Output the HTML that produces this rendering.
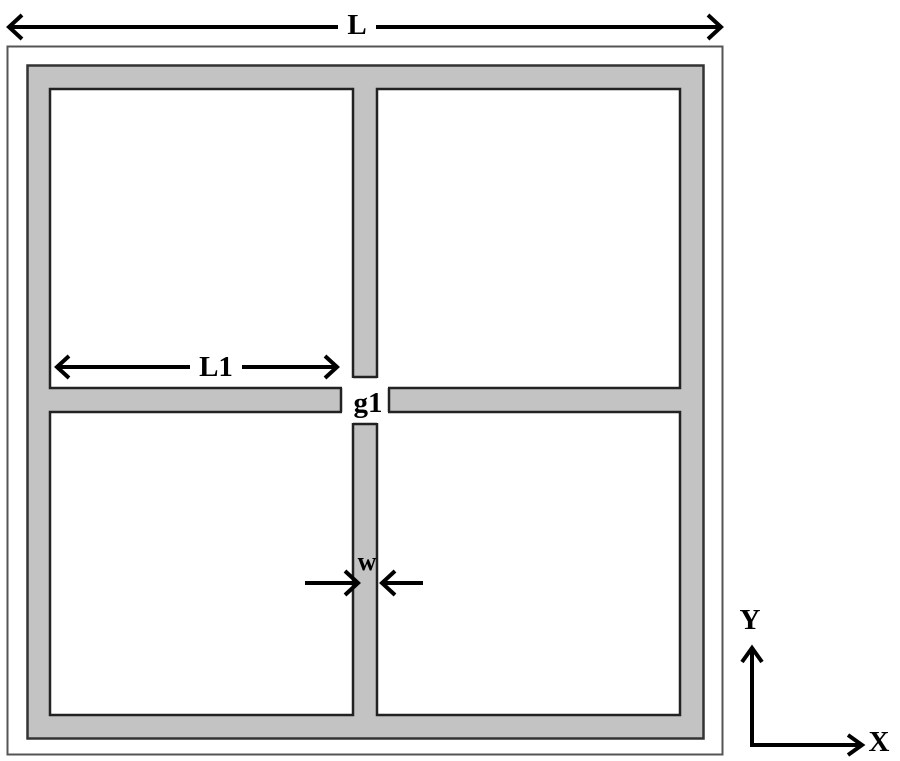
<!DOCTYPE html>
<html><head><style>body{margin:0;background:#fff}svg{display:block}text{font-family:"Liberation Serif","Times New Roman",serif;font-weight:bold}</style></head><body>
<svg width="900" height="761" viewBox="0 0 900 761" xmlns="http://www.w3.org/2000/svg">
<rect x="7.5" y="46.5" width="715" height="708" fill="#fff" stroke="#555" stroke-width="2"/>
<rect x="27.5" y="65.5" width="676" height="673" fill="#c3c3c3" stroke="#333" stroke-width="2.5"/>
<g fill="#fff" stroke="#222" stroke-width="2.5">
<rect x="50" y="89" width="303" height="299"/>
<rect x="377" y="89" width="303" height="299"/>
<rect x="50" y="412" width="303" height="303"/>
<rect x="377" y="412" width="303" height="303"/>
</g>
<rect x="342" y="378" width="46" height="45" fill="#fff"/>
<g stroke="#222" stroke-width="2.5">
<line x1="353" y1="377" x2="377" y2="377"/>
<line x1="341" y1="388" x2="341" y2="412"/>
<line x1="389" y1="388" x2="389" y2="412"/>
<line x1="353" y1="424" x2="377" y2="424"/>
</g>
<g stroke="#000" stroke-width="4" fill="none">
<line x1="10" y1="27" x2="720" y2="27"/>
<polyline points="22,15 9,27 22,39"/>
<polyline points="708,15 721,27 708,39"/>
<line x1="57" y1="367" x2="337" y2="367"/>
<polyline points="69,356 57,367 69,378"/>
<polyline points="325,356 337,367 325,378"/>
<line x1="305" y1="583" x2="358" y2="583"/>
<polyline points="345,571 358,583 345,595"/>
<line x1="423" y1="583" x2="382" y2="583"/>
<polyline points="395,571 382,583 395,595"/>
<polyline points="752,648 752,745 862,745"/>
<polyline points="742,662 752,648 762,662"/>
<polyline points="848,735 862,745 848,755"/>
</g>
<rect x="338" y="10" width="38" height="30" fill="#fff"/>
<text x="357" y="34" font-size="29" text-anchor="middle">L</text>
<rect x="190" y="352" width="52" height="28" fill="#fff"/>
<text x="216" y="376" font-size="29" text-anchor="middle">L1</text>
<text x="368" y="412" font-size="29" text-anchor="middle">g1</text>
<text x="367" y="570" font-size="26" text-anchor="middle">w</text>
<text x="750" y="629" font-size="29" text-anchor="middle">Y</text>
<text x="879" y="751" font-size="29" text-anchor="middle">X</text>
</svg>
</body></html>
